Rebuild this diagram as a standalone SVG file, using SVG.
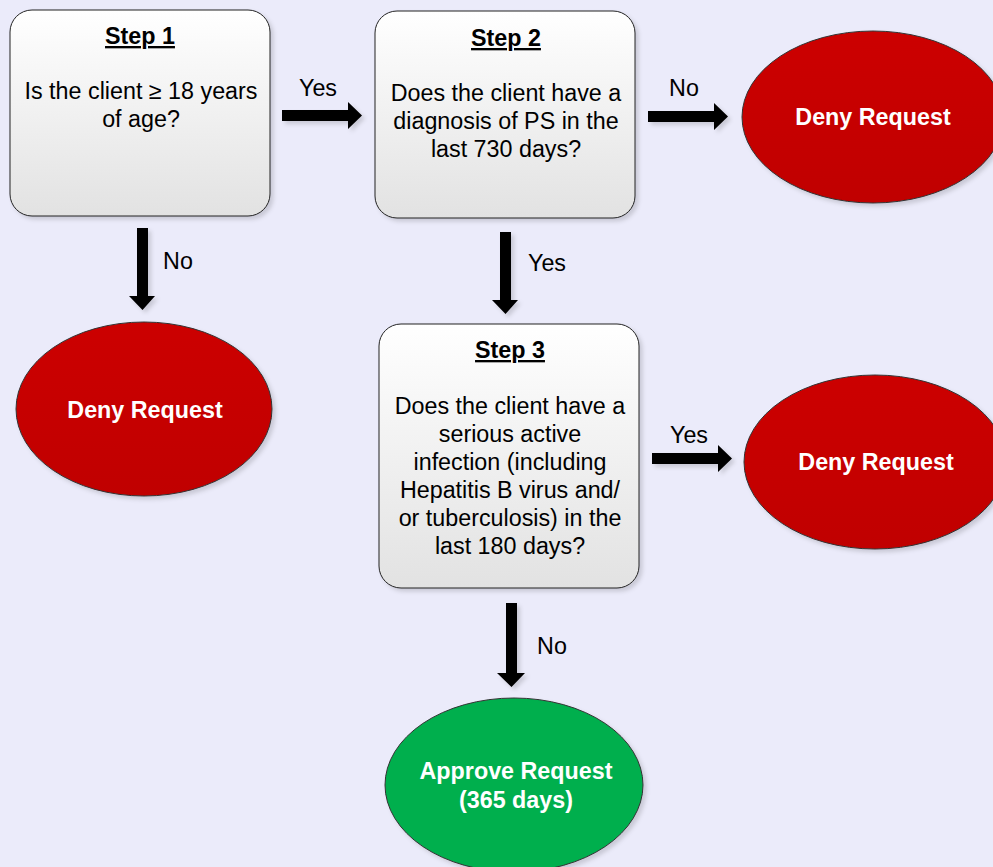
<svg xmlns="http://www.w3.org/2000/svg" width="993" height="867" viewBox="0 0 993 867">
<style>
.bx{fill:url(#gb);stroke:#222;stroke-width:1;filter:url(#sh)}
.red{fill:url(#gr);stroke:#333;stroke-width:1;filter:url(#sh)}
.grn{fill:#00AF4E;stroke:#333;stroke-width:1;filter:url(#sh)}
.t{font-family:"Liberation Sans",Arial,sans-serif;font-size:23.3px;fill:#000;text-anchor:middle}
.h{font-weight:bold;text-decoration:underline}
.w{font-family:"Liberation Sans",Arial,sans-serif;font-size:23.3px;font-weight:bold;fill:#fff;text-anchor:middle}
.ar{fill:#000;filter:url(#sh)}
</style>
<defs>
<linearGradient id="gb" x1="0" y1="0" x2="0" y2="1"><stop offset="0" stop-color="#ffffff"/><stop offset="1" stop-color="#e2e2e2"/></linearGradient>
<linearGradient id="gr" x1="0" y1="0" x2="0" y2="1"><stop offset="0" stop-color="#cc0000"/><stop offset="1" stop-color="#c00000"/></linearGradient>
<filter id="sh" x="-10%" y="-10%" width="130%" height="130%"><feDropShadow dx="3" dy="3" stdDeviation="2" flood-color="#000" flood-opacity="0.15"/></filter>
</defs>
<rect width="993" height="867" fill="#EBEBFA"/>
<g id="connectors">
<polygon class="ar" points="282,110 348,110 348,102 362,115.5 348,129 348,121 282,121"/>
<polygon class="ar" points="648,111 714,111 714,103 728,116.5 714,130 714,122 648,122"/>
<polygon class="ar" points="652,453 718,453 718,445 732,458.5 718,472 718,464 652,464"/>
<polygon class="ar" points="137,228 148,228 148,296 155,296 142.5,310 129,296 137,296"/>
<polygon class="ar" points="500,232 511,232 511,300 518,300 505.5,314 492,300 500,300"/>
<polygon class="ar" points="506,603 517,603 517,673 525,673 511.5,687 497,673 506,673"/>
<text class="t" x="318" y="96">Yes</text>
<text class="t" x="684" y="96">No</text>
<text class="t" x="178" y="269">No</text>
<text class="t" x="547" y="271">Yes</text>
<text class="t" x="689" y="443">Yes</text>
<text class="t" x="552" y="654">No</text>
</g>
<g id="step1">
<rect class="bx" x="10" y="10" width="260" height="206" rx="22"/>
<text class="t h" x="140" y="44">Step 1</text>
<text class="t" x="141" y="99">Is the client ≥ 18 years</text>
<text class="t" x="141" y="127">of age?</text>
</g>
<g id="step2">
<rect class="bx" x="375" y="11" width="260" height="207" rx="22"/>
<text class="t h" x="506" y="46">Step 2</text>
<text class="t" x="506" y="101">Does the client have a</text>
<text class="t" x="506" y="129">diagnosis of PS in the</text>
<text class="t" x="506" y="157">last 730 days?</text>
</g>
<g id="step3">
<rect class="bx" x="379" y="324" width="260" height="264" rx="22"/>
<text class="t h" x="510" y="358">Step 3</text>
<text class="t" x="510" y="414">Does the client have a</text>
<text class="t" x="510" y="442">serious active</text>
<text class="t" x="510" y="470">infection (including</text>
<text class="t" x="510" y="498">Hepatitis B virus and/</text>
<text class="t" x="510" y="526">or tuberculosis) in the</text>
<text class="t" x="510" y="554">last 180 days?</text>
</g>
<g id="deny1">
<ellipse class="red" cx="873" cy="117" rx="131" ry="86"/>
<text class="w" x="873" y="125">Deny Request</text>
</g>
<g id="deny2">
<ellipse class="red" cx="144" cy="409" rx="128" ry="87"/>
<text class="w" x="145" y="418">Deny Request</text>
</g>
<g id="deny3">
<ellipse class="red" cx="875" cy="462" rx="131" ry="87"/>
<text class="w" x="876" y="470">Deny Request</text>
</g>
<g id="approve">
<ellipse class="grn" cx="514" cy="785" rx="129" ry="87"/>
<text class="w" x="516" y="779">Approve Request</text>
<text class="w" x="516" y="808">(365 days)</text>
</g>
</svg>
